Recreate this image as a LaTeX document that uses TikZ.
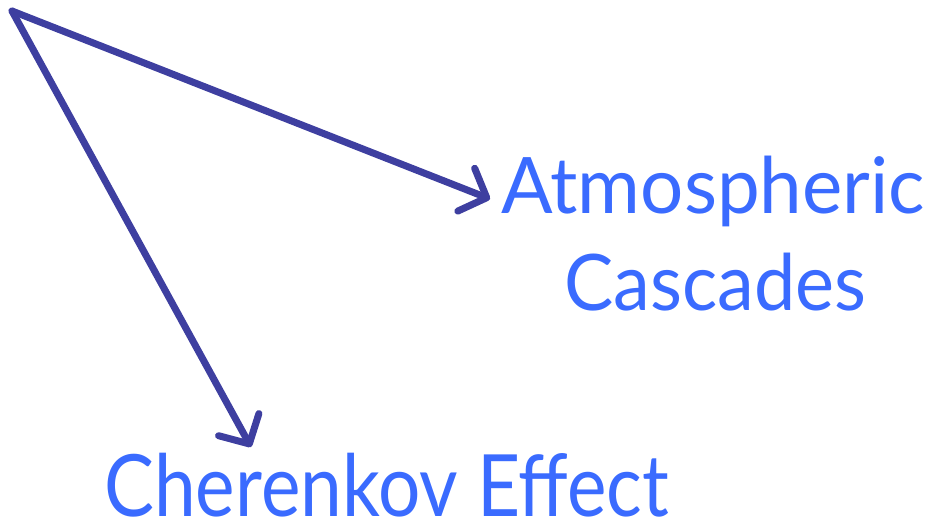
\documentclass[tikz,border=0pt]{standalone}
\usepackage{fontspec}
\usepackage{graphicx}
\setmainfont{Lato}
\usetikzlibrary{arrows.meta}
\definecolor{arrowblue}{HTML}{3E3FA0}
\definecolor{textblue}{HTML}{3A6BFF}
\tikzset{
  conn/.style={draw=arrowblue, line width=7pt, line cap=round, line join=round,
    -{Straight Barb[length=22pt, width=46pt, round]}},
  label/.style={inner sep=0pt, text=textblue, anchor=base west}
}
\begin{document}
\begin{tikzpicture}[x=1pt, y=-1pt]
\useasboundingbox (0,0) rectangle (930,519);
\coordinate (src) at (12,11);
\coordinate (tip1) at (490,199);
\coordinate (tip2) at (251,447);
\node[label, font=\fontsize{78}{90}\selectfont] (atm) at (501,213) {\resizebox{424pt}{\height}{Atmospheric}};
\node[label, font=\fontsize{78}{90}\selectfont] (cas) at (564,310) {\resizebox{302pt}{\height}{Cascades}};
\node[label, font=\fontsize{86}{100}\selectfont] (cher) at (104,516) {\resizebox{565pt}{\height}{Cherenkov Effect}};
\draw[conn] (src) -- (tip1);
\draw[conn] (src) -- (tip2);
\end{tikzpicture}
\end{document}
